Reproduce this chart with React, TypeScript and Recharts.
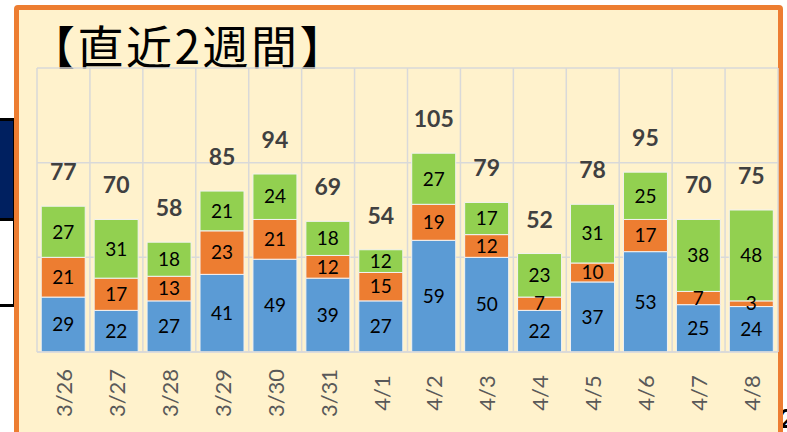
import React from "react";
import { BarChart, Bar, XAxis, YAxis, CartesianGrid, LabelList } from "recharts";

const days = ["3/26", "3/27", "3/28", "3/29", "3/30", "3/31", "4/1", "4/2", "4/3", "4/4", "4/5", "4/6", "4/7", "4/8"];
const blueValues = [29, 22, 27, 41, 49, 39, 27, 59, 50, 22, 37, 53, 25, 24];
const orangeValues = [21, 17, 13, 23, 21, 12, 15, 19, 12, 7, 10, 17, 7, 3];
const greenValues = [27, 31, 18, 21, 24, 18, 12, 27, 17, 23, 31, 25, 38, 48];
const yTicks = [0, 50, 100, 150];
const yMax = 150;

const data = days.map((day, i) => ({
  day,
  blue: blueValues[i],
  orange: orangeValues[i],
  green: greenValues[i],
  total: blueValues[i] + orangeValues[i] + greenValues[i],
}));

const FONT = "Lato, 'Noto Sans', sans-serif";

const DayTick = ({ x, y, payload }: any) => (
  <text
    transform={`translate(${x}, ${y + 33}) rotate(-90)`}
    textAnchor="middle"
    dominantBaseline="central"
    fontSize={22}
    fontFamily={FONT}
    fill="#595959"
  >
    {payload.value}
  </text>
);

const TotalLabel = ({ x, y, width, value }: any) => (
  <text
    x={x + width / 2}
    y={y - 35}
    textAnchor="middle"
    dominantBaseline="central"
    fontSize={23}
    fontWeight={700}
    fontFamily={FONT}
    fill="#404040"
  >
    {value}
  </text>
);

const segmentLabel = { fontSize: 19, fontFamily: FONT, fill: "#000000" };

export default function App() {
  return (
    <div style={{ position: "absolute", left: 0, top: 0, width: 787, height: 432, overflow: "hidden", background: "#fff" }}>
      {/* bits of the slide around the chart */}
      <div style={{ position: "absolute", left: -20, top: 118, width: 30, height: 97, background: "#002060", border: "3px solid #000" }} />
      <div style={{ position: "absolute", left: -20, top: 218, width: 30, height: 83, background: "#fff", border: "3px solid #000" }} />
      <div style={{ position: "absolute", left: 779, top: 402, fontSize: 26, fontFamily: FONT, fontWeight: 700, color: "#000" }}>2</div>
      <div
        style={{
          position: "absolute",
          left: 14,
          top: 5,
          width: 759,
          height: 440,
          background: "#FFF2CC",
          border: "5px solid #ED7D31",
          borderRadius: 4,
        }}
      />
      <div
        style={{
          position: "absolute",
          left: 29,
          top: 21,
          fontSize: 46,
          lineHeight: "46px",
          letterSpacing: 2.5,
          fontFamily: "'Noto Sans CJK JP', sans-serif",
          color: "#000",
          whiteSpace: "nowrap",
        }}
      >
        【直近2週間】
      </div>
      <div style={{ position: "absolute", left: 0, top: 0 }}>
        <BarChart
          width={787}
          height={432}
          data={data}
          margin={{ top: 68, right: 9, left: 37, bottom: 0 }}
          barCategoryGap="8%"
        >
          <CartesianGrid
            stroke="#D9D9D9"
            strokeWidth={1.5}
            horizontalCoordinatesGenerator={({ offset }: any) =>
              yTicks.map((v) => offset.top + offset.height * (1 - v / yMax))
            }
            verticalCoordinatesGenerator={({ offset }: any) =>
              days.map((_, i) => offset.left + (i * offset.width) / days.length).concat(offset.left + offset.width)
            }
          />
          <XAxis dataKey="day" height={80} tickLine={false} axisLine={{ stroke: "#D9D9D9", strokeWidth: 1.5 }} tick={<DayTick />} interval={0} />
          <YAxis hide domain={[0, yMax]} ticks={yTicks} />
          <Bar dataKey="blue" stackId="a" fill="#5B9BD5" stroke="#F2F2F2" strokeWidth={1} isAnimationActive={false}>
            <LabelList dataKey="blue" position="center" style={segmentLabel} />
          </Bar>
          <Bar dataKey="orange" stackId="a" fill="#ED7D31" stroke="#F2F2F2" strokeWidth={1} isAnimationActive={false}>
            <LabelList dataKey="orange" position="center" style={segmentLabel} />
          </Bar>
          <Bar dataKey="green" stackId="a" fill="#92D050" stroke="#F2F2F2" strokeWidth={1} isAnimationActive={false}>
            <LabelList dataKey="green" position="center" style={segmentLabel} />
            <LabelList dataKey="total" content={<TotalLabel />} />
          </Bar>
        </BarChart>
      </div>
    </div>
  );
}
